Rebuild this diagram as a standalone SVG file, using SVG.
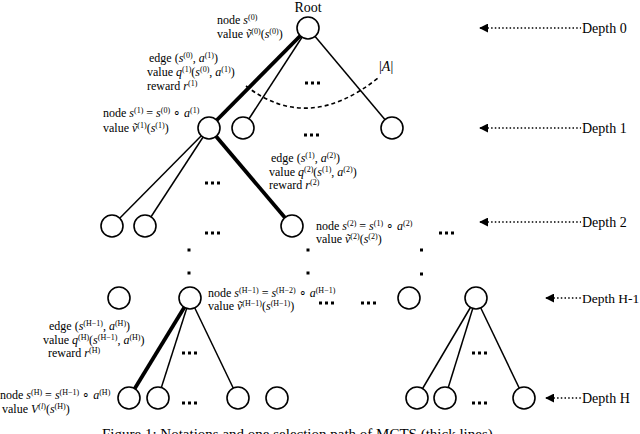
<svg xmlns="http://www.w3.org/2000/svg" width="640" height="434" viewBox="0 0 640 434">
<defs>
<style>
text{font-family:"Liberation Serif","Times New Roman",serif;fill:#000}
.lb{font-size:12px}
.dl{font-size:14px}
.i{font-style:italic}
.sp{font-size:8px}
.n{fill:#fff;stroke:#000;stroke-width:1.6}
.e{stroke:#000;stroke-width:1.5;fill:none}
.t{stroke:#000;stroke-width:3.8;fill:none}
.dots{stroke:#000;stroke-width:3;stroke-dasharray:3 3;fill:none}
.vd{fill:#000}
.arr{stroke:#000;stroke-width:1.3;stroke-dasharray:1.5 2.2;fill:none}
</style>
<marker id="ah" viewBox="0 0 10 10" refX="1" refY="5" markerWidth="9" markerHeight="9" markerUnits="userSpaceOnUse" orient="auto">
<path d="M10 0L0 5L10 10z" fill="#000"/>
</marker>
</defs>
<g id="connectors">
<line class="t" x1="308" y1="28" x2="209" y2="128"/>
<line class="e" x1="308" y1="28" x2="243" y2="128"/>
<line class="e" x1="308" y1="28" x2="392" y2="128"/>
<line class="e" x1="209" y1="128" x2="112" y2="226"/>
<line class="e" x1="209" y1="128" x2="145" y2="226"/>
<line class="t" x1="209" y1="128" x2="292" y2="226"/>
<line class="t" x1="190" y1="298" x2="129" y2="398"/>
<line class="e" x1="190" y1="298" x2="158" y2="398"/>
<line class="e" x1="190" y1="298" x2="238" y2="398"/>
<line class="e" x1="476" y1="298" x2="417" y2="398"/>
<line class="e" x1="476" y1="298" x2="445" y2="398"/>
<line class="e" x1="476" y1="298" x2="524" y2="398"/>
<path d="M246 86Q308 134 378 78" stroke="#000" stroke-width="1.6" stroke-dasharray="4 3" fill="none"/>
</g>
<g id="root"><circle class="n" cx="308" cy="28" r="11"/><text class="dl" x="308" y="12" text-anchor="middle">Root</text></g>
<g id="n1a"><circle class="n" cx="209" cy="128" r="11"/></g>
<g id="n1b"><circle class="n" cx="243" cy="128" r="11"/></g>
<g id="n1c"><circle class="n" cx="392" cy="128" r="11"/></g>
<g id="n2a"><circle class="n" cx="112" cy="226" r="11"/></g>
<g id="n2b"><circle class="n" cx="145" cy="226" r="11"/></g>
<g id="n2c"><circle class="n" cx="292" cy="226" r="11"/></g>
<g id="nh1a"><circle class="n" cx="119" cy="298" r="11"/></g>
<g id="nh1b"><circle class="n" cx="190" cy="298" r="11"/></g>
<g id="nh1c"><circle class="n" cx="409" cy="298" r="11"/></g>
<g id="nh1d"><circle class="n" cx="476" cy="298" r="11"/></g>
<g id="nha"><circle class="n" cx="129" cy="398" r="11"/></g>
<g id="nhb"><circle class="n" cx="158" cy="398" r="11"/></g>
<g id="nhc"><circle class="n" cx="238" cy="398" r="11"/></g>
<g id="nhd"><circle class="n" cx="277" cy="398" r="11"/></g>
<g id="nhe"><circle class="n" cx="417" cy="398" r="11"/></g>
<g id="nhf"><circle class="n" cx="445" cy="398" r="11"/></g>
<g id="nhg"><circle class="n" cx="524" cy="398" r="11"/></g>
<g id="ellipses">
<path class="dots" d="M305 83h15M304 135h15M205 183h15M205 233h15M439 233h15M319 303h15M361 303h15M182 353h15M182 403h15M472 353h15M472 403h15"/>
<rect class="vd" x="187.5" y="248.5" width="3" height="3"/>
<rect class="vd" x="187.5" y="271.5" width="3" height="3"/>
<rect class="vd" x="306.5" y="248.5" width="3" height="3"/>
<rect class="vd" x="306.5" y="271.5" width="3" height="3"/>
<rect class="vd" x="420" y="248.5" width="3" height="3"/>
<rect class="vd" x="420" y="272.5" width="3" height="3"/>
</g>
<g id="labels" class="lb">
<text class="dl" x="379" y="71">|<tspan class="i">A</tspan>|</text>
<text x="217" y="24">node <tspan class="i">s</tspan><tspan class="sp" dy="-4">(0)</tspan></text>
<text x="217" y="38">value <tspan class="i">ṽ</tspan><tspan class="sp" dy="-4">(0)</tspan><tspan dy="4">(</tspan><tspan class="i">s</tspan><tspan class="sp" dy="-4">(0)</tspan><tspan dy="4">)</tspan></text>
<text x="149" y="62">edge (<tspan class="i">s</tspan><tspan class="sp" dy="-4">(0)</tspan><tspan dy="4">, </tspan><tspan class="i">a</tspan><tspan class="sp" dy="-4">(1)</tspan><tspan dy="4">)</tspan></text>
<text x="147" y="76">value <tspan class="i">q</tspan><tspan class="sp" dy="-4">(1)</tspan><tspan dy="4">(</tspan><tspan class="i">s</tspan><tspan class="sp" dy="-4">(0)</tspan><tspan dy="4">, </tspan><tspan class="i">a</tspan><tspan class="sp" dy="-4">(1)</tspan><tspan dy="4">)</tspan></text>
<text x="147" y="90">reward  <tspan class="i">r</tspan><tspan class="sp" dy="-4">(1)</tspan></text>
<text x="103" y="117">node <tspan class="i">s</tspan><tspan class="sp" dy="-4">(1)</tspan><tspan dy="4"> = </tspan><tspan class="i">s</tspan><tspan class="sp" dy="-4">(0)</tspan><tspan dy="4"> ∘ </tspan><tspan class="i">a</tspan><tspan class="sp" dy="-4">(1)</tspan></text>
<text x="103" y="132">value <tspan class="i">ṽ</tspan><tspan class="sp" dy="-4">(1)</tspan><tspan dy="4">(</tspan><tspan class="i">s</tspan><tspan class="sp" dy="-4">(1)</tspan><tspan dy="4">)</tspan></text>
<text x="271" y="162">edge (<tspan class="i">s</tspan><tspan class="sp" dy="-4">(1)</tspan><tspan dy="4">, </tspan><tspan class="i">a</tspan><tspan class="sp" dy="-4">(2)</tspan><tspan dy="4">)</tspan></text>
<text x="269" y="176">value <tspan class="i">q</tspan><tspan class="sp" dy="-4">(2)</tspan><tspan dy="4">(</tspan><tspan class="i">s</tspan><tspan class="sp" dy="-4">(1)</tspan><tspan dy="4">, </tspan><tspan class="i">a</tspan><tspan class="sp" dy="-4">(2)</tspan><tspan dy="4">)</tspan></text>
<text x="269" y="189">reward  <tspan class="i">r</tspan><tspan class="sp" dy="-4">(2)</tspan></text>
<text x="316" y="230">node <tspan class="i">s</tspan><tspan class="sp" dy="-4">(2)</tspan><tspan dy="4"> = </tspan><tspan class="i">s</tspan><tspan class="sp" dy="-4">(1)</tspan><tspan dy="4"> ∘ </tspan><tspan class="i">a</tspan><tspan class="sp" dy="-4">(2)</tspan></text>
<text x="316" y="243">value <tspan class="i">ṽ</tspan><tspan class="sp" dy="-4">(2)</tspan><tspan dy="4">(</tspan><tspan class="i">s</tspan><tspan class="sp" dy="-4">(2)</tspan><tspan dy="4">)</tspan></text>
<text x="208" y="297">node <tspan class="i">s</tspan><tspan class="sp" dy="-4">(H−1)</tspan><tspan dy="4"> = </tspan><tspan class="i">s</tspan><tspan class="sp" dy="-4">(H−2)</tspan><tspan dy="4"> ∘ </tspan><tspan class="i">a</tspan><tspan class="sp" dy="-4">(H−1)</tspan></text>
<text x="208" y="310">value <tspan class="i">ṽ</tspan><tspan class="sp" dy="-4">(H−1)</tspan><tspan dy="4">(</tspan><tspan class="i">s</tspan><tspan class="sp" dy="-4">(H−1)</tspan><tspan dy="4">)</tspan></text>
<text x="49" y="330">edge (<tspan class="i">s</tspan><tspan class="sp" dy="-4">(H−1)</tspan><tspan dy="4">, </tspan><tspan class="i">a</tspan><tspan class="sp" dy="-4">(H)</tspan><tspan dy="4">)</tspan></text>
<text x="43" y="344">value <tspan class="i">q</tspan><tspan class="sp" dy="-4">(H)</tspan><tspan dy="4">(</tspan><tspan class="i">s</tspan><tspan class="sp" dy="-4">(H−1)</tspan><tspan dy="4">, </tspan><tspan class="i">a</tspan><tspan class="sp" dy="-4">(H)</tspan><tspan dy="4">)</tspan></text>
<text x="48" y="357">reward  <tspan class="i">r</tspan><tspan class="sp" dy="-4">(H)</tspan></text>
<text x="0" y="399">node <tspan class="i">s</tspan><tspan class="sp" dy="-4">(H)</tspan><tspan dy="4"> = </tspan><tspan class="i">s</tspan><tspan class="sp" dy="-4">(H−1)</tspan><tspan dy="4"> ∘ </tspan><tspan class="i">a</tspan><tspan class="sp" dy="-4">(H)</tspan></text>
<text x="2" y="413">value <tspan class="i">V</tspan><tspan class="sp" dy="-4">(<tspan class="i">l</tspan>)</tspan><tspan dy="4">(</tspan><tspan class="i">s</tspan><tspan class="sp" dy="-4">(H)</tspan><tspan dy="4">)</tspan></text>
</g>
<g id="depths">
<line class="arr" x1="480" y1="28" x2="581" y2="28" marker-start="url(#ah)"/>
<text class="dl" x="582" y="33">Depth 0</text>
<line class="arr" x1="480" y1="128" x2="581" y2="128" marker-start="url(#ah)"/>
<text class="dl" x="582" y="133">Depth 1</text>
<line class="arr" x1="480" y1="222" x2="581" y2="222" marker-start="url(#ah)"/>
<text class="dl" x="582" y="227">Depth 2</text>
<line class="arr" x1="546" y1="298" x2="581" y2="298" marker-start="url(#ah)"/>
<text class="dl" x="582" y="303" style="font-size:13.5px">Depth H-1</text>
<line class="arr" x1="546" y1="398" x2="581" y2="398" marker-start="url(#ah)"/>
<text class="dl" x="582" y="403">Depth H</text>
</g>
<text x="102" y="439" style="font-size:15px">Figure 1: Notations and one selection path of MCTS (thick lines).</text>
</svg>
